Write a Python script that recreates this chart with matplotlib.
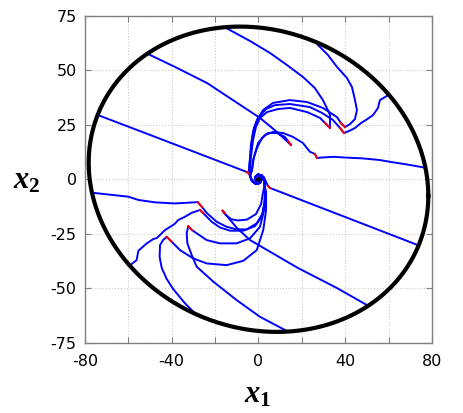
import numpy as np
import matplotlib.pyplot as plt

plt.rcParams['mathtext.fontset'] = 'custom'
plt.rcParams['mathtext.it'] = 'Liberation Serif:italic:bold'
plt.rcParams['mathtext.rm'] = 'Liberation Serif:bold'

# boundary: level set x' Q^-1 x = 1, Q is the shape matrix
Q_shape = np.array([[6131.0, -595.0], [-595.0, 4900.0]])

# common endings of the arcs spiralling into the origin
tail_up_x = [-3.9, -3.0, -1.2, 0.7, 1.6, 0.7, 0.0]
tail_up_y = [1.5, -0.8, -2.2, -1.7, 0.1, 1.5, 0.0]
tail_lo_x = [2.8, 2.8, 1.6, -0.2, -1.6, -1.2, 0.0]
tail_lo_y = [-3.1, -0.8, 1.7, 2.2, 1.0, -0.8, 0.0]

# trajectories: approach | red slide between index sw and sw+1 | return arc
A_x = [-14.1, -3.9, 5.3, 13.1, 20.5, 26.0, 29.7, 32.0, 33.0, 33.0, 30.7,
       28.4, 22.4, 14.5, 9.0, 3.9, 0.7, -1.2, -2.5, -3.5, -3.9]
A_y = [68.9, 63.4, 57.9, 52.4, 46.9, 41.8, 36.3, 31.7, 29.4, 23.5, 25.8,
       28.1, 30.8, 32.7, 32.2, 30.8, 28.1, 23.9, 18.0, 10.2, 4.2]
A_sw = 9

B_x = [27.4, 32.0, 36.2, 40.8, 43.1, 44.5, 45.4, 44.5, 42.2, 39.9, 38.0,
       36.2, 29.7, 22.4, 14.5, 6.7, 2.1, -0.7, -2.5, -3.5, -3.9, -4.4]
B_y = [61.6, 57.0, 51.5, 46.4, 42.3, 36.3, 31.7, 27.6, 25.3, 23.9, 25.8,
       28.5, 32.7, 35.4, 36.3, 35.0, 31.7, 27.2, 21.7, 15.7, 8.8, 4.2]
B_sw = 9

C_x = [59.2, 56.0, 55.1, 52.8, 49.6, 47.3, 44.5, 41.7, 39.4, 37.6,
       34.3, 29.3, 23.7, 14.5, 7.6, 3.5, -0.2, -2.1, -3.0, -3.9, -4.4]
C_y = [38.2, 36.3, 32.7, 29.4, 27.2, 25.8, 23.5, 22.1, 21.2, 23.5,
       27.2, 30.4, 33.1, 34.5, 34.0, 32.2, 28.1, 23.5, 18.0, 10.2, 4.2]
C_sw = 8

D_x = [76.8, 68.3, 60.6, 56.0, 47.6, 40.7, 34.5, 28.4, 27.0, 26.0,
       23.7, 20.5, 15.9, 11.3, 6.7, 3.0, -0.2, -2.1, -3.0]
D_y = [5.3, 6.8, 8.0, 8.8, 9.6, 9.9, 10.3, 9.9, 9.7, 11.6,
       12.6, 16.6, 19.4, 21.2, 21.7, 20.3, 16.6, 10.2, 4.2]
D_sw = 8

L_x = [-50.9, -38.5, -23.7, -11.8, 0.7, 8.5, 15.0, 13.6,
       12.2, 8.5, 4.4, 1.6, -0.7, -2.5, -3.0]
L_y = [57.4, 51.5, 44.1, 36.3, 28.1, 21.7, 15.7, 17.5,
       19.4, 21.2, 21.2, 18.9, 14.3, 8.8, 4.2]
L_sw = 6

K_x = [-74.0, -56.0, -5.3, -4.4, -3.5, -2.1, -0.2, 1.2, 0.5, 0.0]
K_y = [29.4, 22.6, 3.3, 2.6, 0.6, -1.3, -2.0, -0.6, 1.0, 0.0]
K_sw = 2

E_x = [73.5, 5.3, 4.4, 3.5, 2.5, 0.7, -1.2, -1.2, 0.0]
E_y = [-30.2, -4.0, -3.1, -1.3, 1.0, 1.9, 1.5, -0.4, 0.0]
E_sw = 1

F_x = [50.0, 36.2, 18.2, -3.9, -9.9, -15.7, -16.6,
       -15.0, -12.7, -9.5, -5.3, -1.2, 1.2, 2.1]
F_y = [-57.7, -49.9, -40.7, -27.9, -22.4, -15.5, -14.4,
       -16.4, -18.3, -18.9, -18.5, -16.0, -11.4, -5.9]
F_sw = 5

G_x = [13.1, 0.7, -10.1, -20.8, -28.5, -30.8, -32.8, -33.1, -32.4, -30.7,
       -23.9, -17.8, -10.1, -3.9, 0.7, 3.0, 3.2]
G_y = [-69.6, -63.1, -55.4, -47.0, -40.1, -34.8, -29.4, -24.8, -21.5, -23.3,
       -27.9, -29.4, -29.4, -27.1, -21.8, -12.6, -5.9]
G_sw = 8

H_x = [-28.5, -33.9, -39.3, -42.3, -44.6, -45.6, -45.4, -44.0, -42.3, -40.1,
       -36.2, -30.1, -23.9, -14.7, -7.0, -0.8, 2.2, 3.5, 3.5]
H_y = [-62.3, -56.9, -50.4, -45.8, -40.7, -35.7, -30.2, -27.9, -26.4, -28.6,
       -32.5, -36.3, -38.6, -39.4, -37.4, -32.5, -23.3, -14.1, -5.9]
H_sw = 8

I_x = [-59.2, -56.2, -55.4, -51.5, -48.5, -46.9, -43.1, -38.8, -37.0, -33.9,
       -30.8, -27.0, -25.4, -21.6, -17.8, -13.1, -7.0, -1.6, 1.5, 2.7, 3.0]
I_y = [-39.4, -37.1, -32.8, -29.4, -27.4, -27.0, -23.3, -20.6, -18.7, -17.2,
       -15.4, -14.1, -15.6, -19.5, -22.1, -23.6, -23.6, -21.5, -17.2, -11.1, -5.0]
I_sw = 11

J_x = [-76.6, -60.0, -55.4, -47.7, -38.5, -28.0, -26.0,
       -23.9, -19.3, -14.7, -10.1, -5.4, -0.8, 1.9, 3.0, 3.0]
J_y = [-6.2, -8.0, -9.5, -10.6, -11.1, -10.5, -12.8,
       -15.4, -19.5, -21.8, -23.0, -23.0, -20.2, -15.6, -9.5, -5.0]
J_sw = 5

trajectories = [
    (A_x, A_y, A_sw, 'up'), (B_x, B_y, B_sw, 'up'), (C_x, C_y, C_sw, 'up'),
    (D_x, D_y, D_sw, 'up'), (L_x, L_y, L_sw, 'up'), (K_x, K_y, K_sw, None),
    (E_x, E_y, E_sw, None), (F_x, F_y, F_sw, 'lo'), (G_x, G_y, G_sw, 'lo'),
    (H_x, H_y, H_sw, 'lo'), (I_x, I_y, I_sw, 'lo'), (J_x, J_y, J_sw, 'lo'),
]

fig = plt.figure(figsize=(4.63, 4.13), dpi=100)
ax = fig.add_axes([0.1836, 0.170, 0.7494, 0.792])

for tx, ty, sw, tail in trajectories:
    xs, ys = list(tx), list(ty)
    if tail == 'up':
        xs += tail_up_x
        ys += tail_up_y
    elif tail == 'lo':
        xs += tail_lo_x
        ys += tail_lo_y
    ax.plot(xs, ys, color='#0000ff', lw=1.4, zorder=3)
    ax.plot(tx[sw:sw + 2], ty[sw:sw + 2], color='#ff0000', lw=1.4, zorder=4)

ax.plot([0], [0], 'o', color='k', ms=2.5, zorder=5)

# boundary ellipse
Lc = np.linalg.cholesky(Q_shape)
t = np.linspace(0, 2 * np.pi, 400)
ell = Lc @ np.vstack([np.cos(t), np.sin(t)])
ax.plot(ell[0], ell[1], color='k', lw=3, zorder=6)

ax.set_xlim(-80, 80)
ax.set_ylim(-75, 75)
xt = np.arange(-80, 81, 20)
ax.set_xticks(xt)
ax.set_xticklabels([str(v) if v % 40 == 0 else '' for v in xt])
yt = np.arange(-75, 76, 25)
ax.set_yticks(yt)
ax.set_yticklabels([str(v) for v in yt])
ax.tick_params(direction='in', top=True, right=True, length=4,
               color='#808080', labelsize=11.5)
ax.tick_params(axis='x', pad=8)
ax.tick_params(axis='y', pad=6)
for s in ax.spines.values():
    s.set_color('#808080')
    s.set_linewidth(1.0)
ax.grid(True, linestyle=':', color='#cccccc', lw=0.8)
ax.set_axisbelow(True)

fig.text(0.557, 0.044, r'$x_1$', fontsize=22, ha='center', va='center')
fig.text(0.058, 0.564, r'$x_2$', fontsize=22, ha='center', va='center')

fig.savefig('out.png', dpi=100)
